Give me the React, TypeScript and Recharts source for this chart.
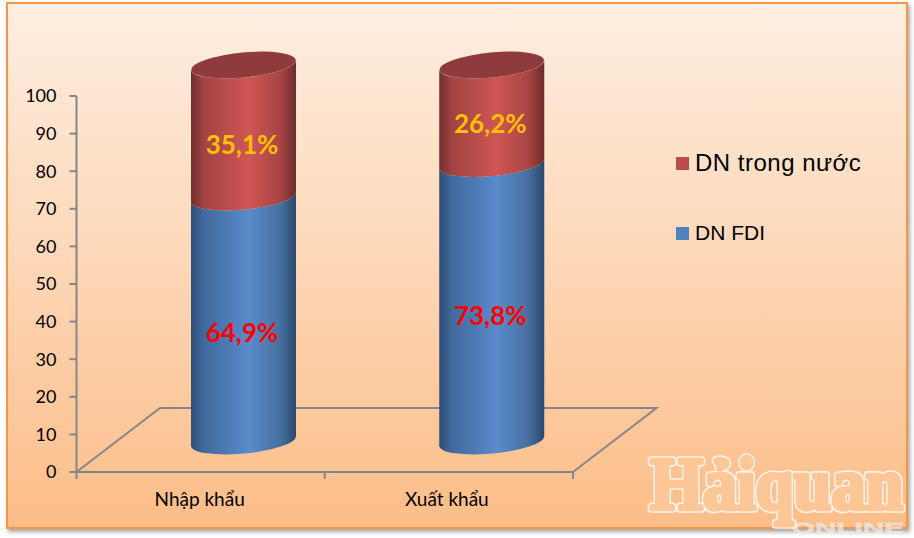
import React from 'react';
import { BarChart, Bar, XAxis, YAxis, Legend, LabelList } from 'recharts';

const categories = ['Nhập khẩu', 'Xuất khẩu'];
const fdiValues = [64.9, 73.8];
const domesticValues = [35.1, 26.2];
const yTicks = [0, 10, 20, 30, 40, 50, 60, 70, 80, 90, 100];
const FDI_NAME = 'DN FDI';
const DOMESTIC_NAME = 'DN trong nước';

const rows = categories.map((name, i) => ({ name, fdi: fdiValues[i], domestic: domesticValues[i] }));

const W = 914;
const H = 538;
const PLOT = { left: 76.5, top: 96, right: 573, bottom: 472 };
const FLOOR_BACK = { dx: 83.5, dy: -64 };
const BAR_SHIFT = { dx: 42.5, dy: -31 };
const RX = 52.5;
const RY = 12.5;
const TILT = -5.4;
const SLOPE = 5;
const GREY = '#868686';
const FDI_LABEL_NUDGE = [13, 13];
const DOMESTIC_LABEL_NUDGE = [13, 9];

function Cylinder(props: any) {
  const { x, y, width, height, grad, capped } = props;
  const cx = x + width / 2 + BAR_SHIFT.dx;
  const top = y + BAR_SHIFT.dy;
  const bot = y + height + BAR_SHIFT.dy;
  const l = cx - RX;
  const r = cx + RX;
  const d = `M${l},${top + SLOPE} L${l},${bot + SLOPE} A${RX},${RY} ${TILT} 0 0 ${r},${bot - SLOPE} L${r},${top - SLOPE} A${RX},${RY} ${TILT} 0 1 ${l},${top + SLOPE} Z`;
  return (
    <g>
      <path d={d} fill={`url(#${grad})`} />
      {capped && (
        <ellipse cx={cx} cy={top} rx={RX} ry={RY} fill="#8f3b3b" transform={`rotate(${TILT} ${cx} ${top})`} />
      )}
    </g>
  );
}

function barLabel(color: string, nudge: number[]) {
  return (props: any) => {
    const { x, y, width, height, value, index } = props;
    return (
      <text
        x={x + width / 2 + BAR_SHIFT.dx - 1.5}
        y={y + height / 2 + BAR_SHIFT.dy + nudge[index]}
        textAnchor="middle"
        dominantBaseline="central"
        fontFamily="Lato, sans-serif"
        fontWeight={700}
        fontSize={26}
        fill={color}
      >
        {String(value).replace('.', ',') + '%'}
      </text>
    );
  };
}

function CategoryTick(props: any) {
  const { x, payload, index } = props;
  const band = (PLOT.right - PLOT.left) / categories.length;
  const left = x - band / 2;
  return (
    <g>
      <line x1={left} x2={left} y1={PLOT.bottom} y2={PLOT.bottom + 7} stroke={GREY} strokeWidth={2} />
      {index === categories.length - 1 && (
        <line x1={left + band} x2={left + band} y1={PLOT.bottom} y2={PLOT.bottom + 7} stroke={GREY} strokeWidth={2} />
      )}
      <text x={x - 1 - index} y={PLOT.bottom + 34} textAnchor="middle" fontFamily="Lato, sans-serif" fontSize={19} fill="#000">
        {payload.value}
      </text>
    </g>
  );
}

function LegendBox() {
  const items = [
    { label: DOMESTIC_NAME, color: '#b94d4b', top: 0, size: 24, spacing: 0.5 },
    { label: FDI_NAME, color: '#4f81bd', top: 70, size: 21, spacing: 0 },
  ];
  return (
    <div style={{ position: 'relative', width: 220, height: 120 }}>
      {items.map((it) => (
        <div key={it.label} style={{ position: 'absolute', left: 0, top: it.top, display: 'flex', alignItems: 'center', height: 30, whiteSpace: 'nowrap' }}>
          <span style={{ width: 13, height: 13, background: it.color, marginRight: 6, display: 'inline-block' }} />
          <span style={{ fontFamily: '"Liberation Sans", Arial, sans-serif', fontSize: it.size, letterSpacing: it.spacing, color: '#000' }}>{it.label}</span>
        </div>
      ))}
    </div>
  );
}

export default function App() {
  return (
    <div style={{ position: 'absolute', left: 0, top: 0, width: W, height: H, background: '#fff', overflow: 'hidden' }}>
      <div
        style={{
          position: 'absolute',
          left: 5.5,
          top: 1.5,
          width: 902.5,
          height: 527.5,
          boxSizing: 'border-box',
          border: '2.5px solid #f79646',
          background: 'linear-gradient(180deg, #feeee1 0%, #fdd9bb 45%, #fcbd88 100%)',
          boxShadow: '2px 3px 4px rgba(0,0,0,0.35)',
        }}
      />
      <div style={{ position: 'absolute', left: 0, top: 0 }}>
        <BarChart
          width={W}
          height={H}
          data={rows}
          margin={{ left: 0, top: PLOT.top, right: W - PLOT.right, bottom: 0 }}
          barCategoryGap={0}
          style={{ background: 'transparent' }}
        >
          <defs>
            <linearGradient id="gradBlue" x1="0" y1="0" x2="1" y2="0">
              <stop offset="0%" stopColor="#2e4d75" />
              <stop offset="12%" stopColor="#41699d" />
              <stop offset="55%" stopColor="#5a8bcb" />
              <stop offset="85%" stopColor="#46709f" />
              <stop offset="100%" stopColor="#2c486c" />
            </linearGradient>
            <linearGradient id="gradRed" x1="0" y1="0" x2="1" y2="0">
              <stop offset="0%" stopColor="#722e2e" />
              <stop offset="12%" stopColor="#a24342" />
              <stop offset="55%" stopColor="#ce5654" />
              <stop offset="85%" stopColor="#a74544" />
              <stop offset="100%" stopColor="#6c2b2b" />
            </linearGradient>
          </defs>
          <path
            d={`M${PLOT.left},${PLOT.bottom} L${PLOT.left + FLOOR_BACK.dx},${PLOT.bottom + FLOOR_BACK.dy} L${PLOT.right + FLOOR_BACK.dx},${PLOT.bottom + FLOOR_BACK.dy} L${PLOT.right},${PLOT.bottom}`}
            fill="none"
            stroke={GREY}
            strokeWidth={2}
          />
          <XAxis
            dataKey="name"
            height={H - PLOT.bottom}
            axisLine={{ stroke: GREY, strokeWidth: 2 }}
            tickLine={false}
            tick={<CategoryTick />}
            interval={0}
          />
          <YAxis
            width={PLOT.left}
            domain={[0, 100]}
            ticks={yTicks}
            interval={0}
            axisLine={{ stroke: GREY, strokeWidth: 2 }}
            tickLine={{ stroke: GREY, strokeWidth: 2 }}
            tick={{ fill: '#000', fontFamily: 'Lato, sans-serif', fontSize: 18 }}
            tickSize={7}
            tickMargin={13}
          />
          <Legend
            layout="horizontal"
            verticalAlign="middle"
            align="center"
            content={<LegendBox />}
            wrapperStyle={{ position: 'absolute', left: 676, top: 148, width: 220, height: 120 }}
          />
          <Bar dataKey="fdi" name={FDI_NAME} stackId="a" barSize={105} isAnimationActive={false} shape={<Cylinder grad="gradBlue" />}>
            <LabelList dataKey="fdi" content={barLabel('#ff0000', FDI_LABEL_NUDGE)} />
          </Bar>
          <Bar dataKey="domestic" name={DOMESTIC_NAME} stackId="a" barSize={105} isAnimationActive={false} shape={<Cylinder grad="gradRed" capped />}>
            <LabelList dataKey="domestic" content={barLabel('#ffc000', DOMESTIC_LABEL_NUDGE)} />
          </Bar>
        </BarChart>
      </div>
      <svg width={W} height={H} style={{ position: 'absolute', left: 0, top: 0, pointerEvents: 'none' }}>
        <text x={792} y={533} fontFamily="'Liberation Sans', sans-serif" fontWeight={700} fontSize={15} textLength={112} lengthAdjust="spacingAndGlyphs" fill="rgba(255,255,255,0.55)" stroke="rgba(225,225,225,0.7)" strokeWidth={0.8}>
          ONLINE
        </text>
        <g fontFamily="'Liberation Serif', serif" fontWeight={700} fontSize={68} transform="translate(650 509) scale(1 1.1)">
          <text x={0} y={0} fill="none" stroke="rgba(255,255,255,0.8)" strokeWidth={7} strokeLinejoin="round">
            Hảiquan
          </text>
          <text x={0} y={0} fill="#fdc697" stroke="#fdc697" strokeWidth={4} strokeLinejoin="round">
            Hảiquan
          </text>
        </g>
      </svg>
    </div>
  );
}
